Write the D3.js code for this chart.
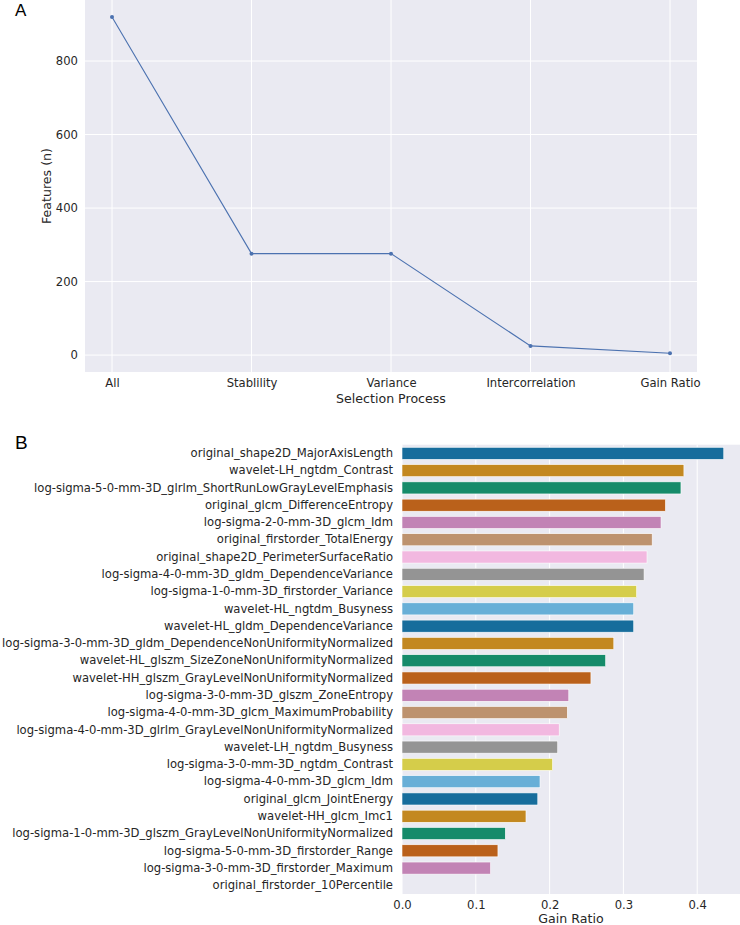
<!DOCTYPE html>
<html>
<head>
<meta charset="utf-8">
<script src="https://cdn.jsdelivr.net/npm/d3@7"></script>
<style>
  html, body { margin: 0; padding: 0; background: #fff; }
  svg { display: block; font-family: "DejaVu Sans", sans-serif; }
</style>
</head>
<body>
<svg id="chart" width="740" height="925"></svg>
<script>
// ---- Data: panel A ----
const stages = ["All", "Stablility", "Variance", "Intercorrelation", "Gain Ratio"];
const featureCounts = [920, 276, 276, 25, 5];
const countTicks = [0, 200, 400, 600, 800];

// ---- Data: panel B ----
const featureNames = [
  "original_shape2D_MajorAxisLength",
  "wavelet-LH_ngtdm_Contrast",
  "log-sigma-5-0-mm-3D_glrlm_ShortRunLowGrayLevelEmphasis",
  "original_glcm_DifferenceEntropy",
  "log-sigma-2-0-mm-3D_glcm_Idm",
  "original_firstorder_TotalEnergy",
  "original_shape2D_PerimeterSurfaceRatio",
  "log-sigma-4-0-mm-3D_gldm_DependenceVariance",
  "log-sigma-1-0-mm-3D_firstorder_Variance",
  "wavelet-HL_ngtdm_Busyness",
  "wavelet-HL_gldm_DependenceVariance",
  "log-sigma-3-0-mm-3D_gldm_DependenceNonUniformityNormalized",
  "wavelet-HL_glszm_SizeZoneNonUniformityNormalized",
  "wavelet-HH_glszm_GrayLevelNonUniformityNormalized",
  "log-sigma-3-0-mm-3D_glszm_ZoneEntropy",
  "log-sigma-4-0-mm-3D_glcm_MaximumProbability",
  "log-sigma-4-0-mm-3D_glrlm_GrayLevelNonUniformityNormalized",
  "wavelet-LH_ngtdm_Busyness",
  "log-sigma-3-0-mm-3D_ngtdm_Contrast",
  "log-sigma-4-0-mm-3D_glcm_Idm",
  "original_glcm_JointEnergy",
  "wavelet-HH_glcm_Imc1",
  "log-sigma-1-0-mm-3D_glszm_GrayLevelNonUniformityNormalized",
  "log-sigma-5-0-mm-3D_firstorder_Range",
  "log-sigma-3-0-mm-3D_firstorder_Maximum",
  "original_firstorder_10Percentile"
];
const gainRatios = [
  0.436, 0.382, 0.378, 0.357, 0.351, 0.339, 0.332, 0.328, 0.318, 0.314,
  0.314, 0.287, 0.276, 0.256, 0.226, 0.224, 0.213, 0.211, 0.204, 0.187,
  0.184, 0.168, 0.140, 0.130, 0.120, 0.0
];
const gainTicks = [0.0, 0.1, 0.2, 0.3, 0.4];

// seaborn "colorblind" palette, desaturated like barplot does
const palette = ["#0173b2", "#de8f05", "#029e73", "#d55e00", "#cc78bc",
                 "#ca9161", "#fbafe4", "#949494", "#ece133", "#56b4e9"];
function desat(c, p) { const h = d3.hsl(c); h.s *= p; return h.formatHex(); }
const barColors = palette.map(c => desat(c, 0.75));

const BG = "#eaeaf2", TXT = "#262626";
const TICK_FS = "11.6px", TITLE_FS = "12.6px";
const svg = d3.select("#chart");

// ================= Panel A =================
const A = { left: 85, right: 697, top: 0, bottom: 372 };
const xA = d3.scalePoint().domain(stages).range([112, 670]);
const yA = d3.scaleLinear()
  .domain([-46, 966])
  .range([A.bottom, A.top]);

const gA = svg.append("g");
gA.append("rect").attr("x", A.left).attr("y", A.top)
  .attr("width", A.right - A.left).attr("height", A.bottom - A.top).attr("fill", BG);

// grid
gA.selectAll(".gx").data(stages).join("line")
  .attr("x1", d => xA(d)).attr("x2", d => xA(d))
  .attr("y1", A.top).attr("y2", A.bottom)
  .attr("stroke", "#fff").attr("stroke-width", 1);
gA.selectAll(".gy").data(countTicks).join("line")
  .attr("x1", A.left).attr("x2", A.right)
  .attr("y1", d => yA(d)).attr("y2", d => yA(d))
  .attr("stroke", "#fff").attr("stroke-width", 1);

// axes (via d3 axis generators, tick lines hidden)
const axAx = gA.append("g").attr("transform", `translate(0,${A.bottom})`)
  .call(d3.axisBottom(xA).tickSize(0).tickPadding(7));
const axAy = gA.append("g").attr("transform", `translate(${A.left},0)`)
  .call(d3.axisLeft(yA).tickValues(countTicks).tickSize(0).tickPadding(7));
[axAx, axAy].forEach(ax => {
  ax.select(".domain").remove();
  ax.selectAll("text").attr("fill", TXT).style("font-size", TICK_FS)
    .style("font-family", "'DejaVu Sans', sans-serif");
});

// line + markers
const lineGen = d3.line().x((d, i) => xA(stages[i])).y(d => yA(d));
gA.append("path").datum(featureCounts).attr("d", lineGen)
  .attr("fill", "none").attr("stroke", "#4c72b0").attr("stroke-width", 1.1);
gA.selectAll(".pt").data(featureCounts).join("circle")
  .attr("cx", (d, i) => xA(stages[i])).attr("cy", d => yA(d)).attr("r", 2)
  .attr("fill", "#4c72b0");

// labels
gA.append("text").attr("x", (A.left + A.right) / 2).attr("y", 403)
  .attr("text-anchor", "middle").attr("fill", TXT).style("font-size", TITLE_FS)
  .text("Selection Process");
gA.append("text").attr("transform", `translate(51,${(A.top + A.bottom) / 2}) rotate(-90)`)
  .attr("text-anchor", "middle").attr("fill", TXT).style("font-size", TITLE_FS)
  .text("Features (n)");
svg.append("text").attr("x", 15).attr("y", 16).attr("fill", "#000")
  .style("font-family", "'Liberation Sans', Arial, sans-serif").style("font-size", "17px")
  .text("A");

// ================= Panel B =================
const B = { left: 402, right: 740, top: 444.7, bottom: 894 };
const xB = d3.scaleLinear().domain([0, 0.458]).range([B.left, B.right]);
const yB = d3.scaleBand().domain(featureNames).range([B.top, B.bottom]).paddingInner(0.3).paddingOuter(0.15);

const gB = svg.append("g");
gB.append("rect").attr("x", B.left).attr("y", B.top)
  .attr("width", B.right - B.left).attr("height", B.bottom - B.top).attr("fill", BG);
gB.selectAll(".gx").data(gainTicks).join("line")
  .attr("x1", d => xB(d)).attr("x2", d => xB(d))
  .attr("y1", B.top).attr("y2", B.bottom)
  .attr("stroke", "#fff").attr("stroke-width", 1);

gB.selectAll(".bar").data(gainRatios).join("rect")
  .attr("x", xB(0))
  .attr("y", (d, i) => yB(featureNames[i]))
  .attr("width", d => xB(d) - xB(0))
  .attr("height", yB.bandwidth())
  .attr("fill", (d, i) => barColors[i % barColors.length])
  .attr("stroke", d => d > 0 ? "#fff" : "none").attr("stroke-width", 0.6);

const axBx = gB.append("g").attr("transform", `translate(0,${B.bottom})`)
  .call(d3.axisBottom(xB).tickValues(gainTicks).tickFormat(d3.format(".1f")).tickSize(0).tickPadding(7));
const axBy = gB.append("g").attr("transform", `translate(${B.left},0)`)
  .call(d3.axisLeft(yB).tickSize(0).tickPadding(9));
[axBx, axBy].forEach(ax => {
  ax.select(".domain").remove();
  ax.selectAll("text").attr("fill", TXT).style("font-size", TICK_FS)
    .style("font-family", "'DejaVu Sans', sans-serif");
});

gB.append("text").attr("x", (B.left + B.right) / 2).attr("y", 923)
  .attr("text-anchor", "middle").attr("fill", TXT).style("font-size", TITLE_FS)
  .text("Gain Ratio");
svg.append("text").attr("x", 15).attr("y", 449).attr("fill", "#000")
  .style("font-family", "'Liberation Sans', Arial, sans-serif").style("font-size", "19px")
  .text("B");
</script>
</body>
</html>
